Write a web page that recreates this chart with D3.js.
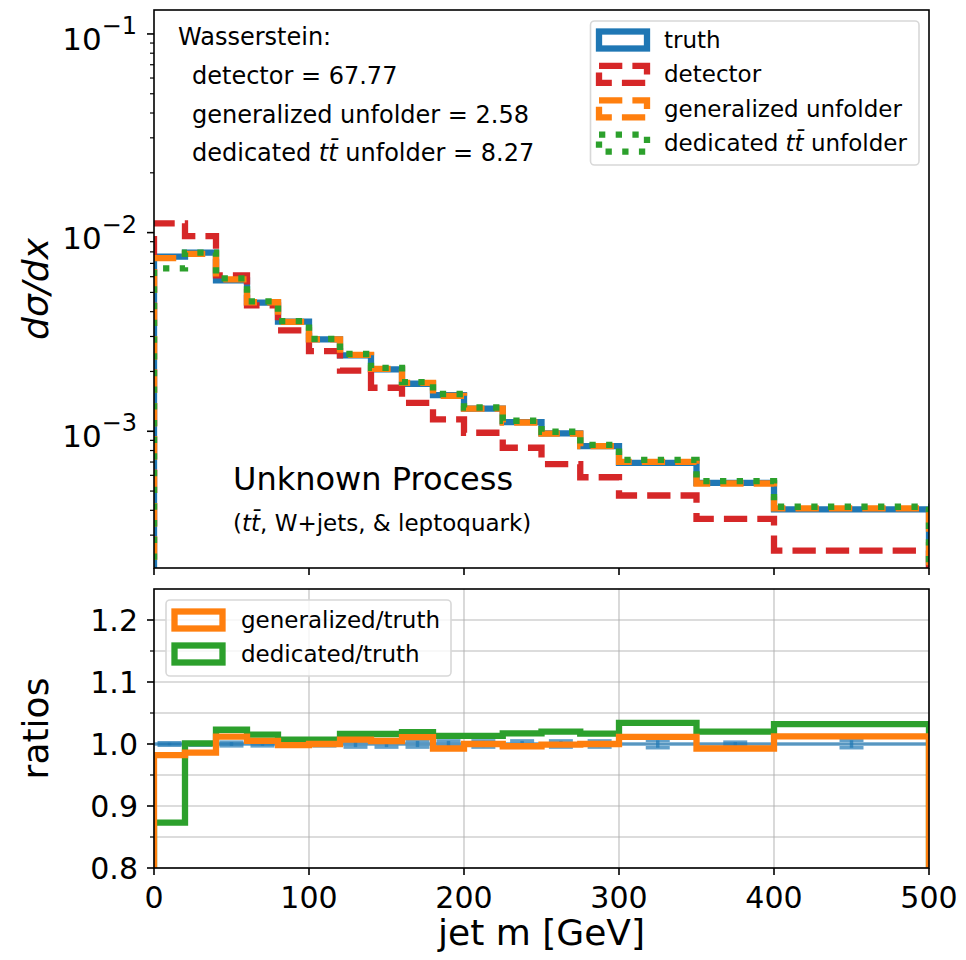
<!DOCTYPE html>
<html>
<head>
<meta charset="utf-8">
<script src="https://cdn.jsdelivr.net/npm/d3@7"></script>
<style>
	body {margin: 0; background: #fff;}
	text {font-family: "DejaVu Sans", sans-serif; fill: #000;}
</style>
</head>
<body>
<script>
// bin edges of the jet mass histogram [GeV]
const binEdges = [0, 20, 40, 60, 80, 100, 120, 140, 160, 180, 200, 225, 250, 275, 300, 350, 400, 500];

// dsigma/dx per bin
const truth = [7.57e-3, 7.93e-3, 5.75e-3, 4.44e-3, 3.56e-3, 2.90e-3, 2.41e-3, 2.05e-3, 1.735e-3, 1.52e-3, 1.30e-3, 1.111e-3, 9.75e-4, 8.41e-4, 6.94e-4, 5.50e-4, 4.04e-4];
const detector = [1.114e-2, 9.61e-3, 6.09e-3, 4.30e-3, 3.22e-3, 2.53e-3, 2.02e-3, 1.656e-3, 1.391e-3, 1.147e-3, 9.83e-4, 8.26e-4, 6.83e-4, 5.87e-4, 4.75e-4, 3.62e-4, 2.51e-4];
const generalized = [7.434e-3, 7.819e-3, 5.819e-3, 4.462e-3, 3.553e-3, 2.900e-3, 2.427e-3, 2.060e-3, 1.754e-3, 1.509e-3, 1.300e-3, 1.107e-3, 9.74e-4, 8.41e-4, 7.02e-4, 5.46e-4, 4.09e-4];
const dedicated = [6.609e-3, 7.938e-3, 5.882e-3, 4.507e-3, 3.585e-3, 2.920e-3, 2.449e-3, 2.083e-3, 1.768e-3, 1.540e-3, 1.317e-3, 1.130e-3, 9.945e-4, 8.55e-4, 7.176e-4, 5.61e-4, 4.17e-4];
// relative stat. uncertainty of truth (ratio panel error bars)
const truthRelErr = [0.002, 0.002, 0.003, 0.003, 0.003, 0.003, 0.005, 0.005, 0.005, 0.005, 0.005, 0.005, 0.005, 0.005, 0.006, 0.003, 0.006];

const xTicks = [0, 100, 200, 300, 400, 500];
const logTickExps = [-1, -2, -3];
const ratioTicks = [0.8, 0.9, 1.0, 1.1, 1.2];
const ratioMinorTicks = [0.85, 0.95, 1.05, 1.15];

const wassersteinTitle = "Wasserstein:";
const wassersteinNames = ["detector", "generalized unfolder", "dedicated tt\u0304 unfolder"];
const wassersteinValues = ["67.77", "2.58", "8.27"];

const W = 966, H = 960;
const L = 154, R = 929;
const top1 = 10, bot1 = 568;	// main panel
const top2 = 589, bot2 = 868;	// ratio panel
const LW = 6.3;					// hist line width

const COLORS = {blue: "#1f77b4", orange: "#ff7f0e", green: "#2ca02c", red: "#d62728"};
const DASH = `${3.7 * LW},${1.6 * LW}`;
const DOT = `${LW},${1.65 * LW}`;

const svg = d3.select("body").append("svg").attr("width", W).attr("height", H);

const x = d3.scaleLinear().domain([0, 500]).range([L, R]);
const y = d3.scaleLog().domain([2.05e-4, 0.132]).range([bot1, top1]);
const yr = d3.scaleLinear().domain([0.8, 1.25]).range([bot2, top2]);

const defs = svg.append("defs");
defs.append("clipPath").attr("id", "clipTop").append("rect")
	.attr("x", L).attr("y", top1).attr("width", R - L).attr("height", bot1 - top1);
defs.append("clipPath").attr("id", "clipBot").append("rect")
	.attr("x", L).attr("y", top2).attr("width", R - L).attr("height", bot2 - top2);

// histtype="step" outline: down to the floor on both ends
const stepPoints = (vals, floor) => {
	const pts = [[binEdges[0], floor]];
	vals.forEach((v, i) => {
		pts.push([binEdges[i], v]);
		pts.push([binEdges[i + 1], v]);
	});
	pts.push([binEdges[binEdges.length - 1], floor]);
	return pts;
}

const topLine = d3.line().x(d => x(d[0])).y(d => y(d[1]));
const botLine = d3.line().x(d => x(d[0])).y(d => yr(d[1]));

// ---------- main panel ----------
const gTop = svg.append("g").attr("clip-path", "url(#clipTop)");
const topSeries = [
	{vals: truth, color: COLORS.blue, dash: null},
	{vals: detector, color: COLORS.red, dash: DASH},
	{vals: generalized, color: COLORS.orange, dash: DASH},
	{vals: dedicated, color: COLORS.green, dash: DOT},
];
topSeries.forEach(s => {
	gTop.append("path")
		.attr("d", topLine(stepPoints(s.vals, 1e-6)))
		.attr("fill", "none")
		.attr("stroke", s.color)
		.attr("stroke-width", LW)
		.attr("stroke-linejoin", "miter")
		.attr("stroke-dasharray", s.dash);
});

// ---------- ratio panel ----------
const gBot = svg.append("g");
// grid
gBot.selectAll("line.gx").data(xTicks).join("line")
	.attr("x1", d => x(d)).attr("x2", d => x(d)).attr("y1", top2).attr("y2", bot2)
	.attr("stroke", "#b0b0b0").attr("stroke-width", 1.6).attr("stroke-opacity", 0.6);
gBot.selectAll("line.gy").data(ratioTicks.concat(ratioMinorTicks)).join("line")
	.attr("x1", L).attr("x2", R).attr("y1", d => yr(d)).attr("y2", d => yr(d))
	.attr("stroke", "#b0b0b0").attr("stroke-width", 1.6).attr("stroke-opacity", 0.6);

const gRatio = gBot.append("g").attr("clip-path", "url(#clipBot)");
// truth/truth with its error bars
const centers = binEdges.slice(0, -1).map((e, i) => (e + binEdges[i + 1]) / 2);
const blueRatio = gRatio.append("g").attr("stroke", COLORS.blue).attr("stroke-opacity", 0.7).attr("stroke-width", 3.5);
blueRatio.append("line").attr("x1", x(0)).attr("x2", x(500)).attr("y1", yr(1)).attr("y2", yr(1));
centers.forEach((c, i) => {
	const e = truthRelErr[i];
	blueRatio.append("line").attr("x1", x(c)).attr("x2", x(c)).attr("y1", yr(1 - e)).attr("y2", yr(1 + e));
	[1 - e, 1 + e].forEach(v => {
		blueRatio.append("line").attr("x1", x(c) - 12).attr("x2", x(c) + 12).attr("y1", yr(v)).attr("y2", yr(v));
	});
});
const ratioOf = vals => vals.map((v, i) => v / truth[i]);
[{vals: dedicated, color: COLORS.green}, {vals: generalized, color: COLORS.orange}].forEach(s => {
	gRatio.append("path")
		.attr("d", botLine(stepPoints(ratioOf(s.vals), 0)))
		.attr("fill", "none")
		.attr("stroke", s.color)
		.attr("stroke-width", LW);
});

// ---------- axes ----------
const spine = (y0, y1) => svg.append("rect")
	.attr("x", L).attr("y", y0).attr("width", R - L).attr("height", y1 - y0)
	.attr("fill", "none").attr("stroke", "#000").attr("stroke-width", 1.6);
spine(top1, bot1);
spine(top2, bot2);

const tick = (x1, y1, x2, y2) => svg.append("line")
	.attr("x1", x1).attr("y1", y1).attr("x2", x2).attr("y2", y2)
	.attr("stroke", "#000").attr("stroke-width", 1.6);

xTicks.forEach(t => {
	tick(x(t), bot1, x(t), bot1 + 7);
	tick(x(t), bot2, x(t), bot2 + 7);
	svg.append("text").attr("x", x(t)).attr("y", bot2 + 40)
		.attr("text-anchor", "middle").attr("font-size", 30).text(t);
});

// log ticks
logTickExps.forEach(p => {
	const yy = y(Math.pow(10, p));
	tick(L - 7, yy, L, yy);
	const t = svg.append("text").attr("x", L - 17).attr("y", yy + 16)
		.attr("text-anchor", "end").attr("font-size", 31);
	t.append("tspan").text("10");
	t.append("tspan").attr("dy", -16).attr("font-size", 24).text("\u2212" + Math.abs(p));
});
d3.range(-4, 0).forEach(p => {
	d3.range(2, 10).forEach(m => {
		const v = m * Math.pow(10, p);
		if (v < y.domain()[0] || v > y.domain()[1]) return;
		tick(L - 4, y(v), L, y(v)).attr("stroke-width", 1.2);
	});
});

ratioTicks.forEach(t => {
	tick(L - 7, yr(t), L, yr(t));
	svg.append("text").attr("x", L - 16).attr("y", yr(t) + 11)
		.attr("text-anchor", "end").attr("font-size", 30).text(t.toFixed(1));
});
ratioMinorTicks.forEach(t => tick(L - 4, yr(t), L, yr(t)).attr("stroke-width", 1.2));

// axis labels
svg.append("text").attr("x", (L + R) / 2).attr("y", 945)
	.attr("text-anchor", "middle").attr("font-size", 36).text("jet m [GeV]");
svg.append("text")
	.attr("transform", `translate(48,${(top1 + bot1) / 2}) rotate(-90)`)
	.attr("text-anchor", "middle").attr("font-size", 36).attr("font-style", "italic")
	.text("d\u03c3/dx");
svg.append("text")
	.attr("transform", `translate(48,${(top2 + bot2) / 2}) rotate(-90)`)
	.attr("text-anchor", "middle").attr("font-size", 36).text("ratios");

// ---------- annotations ----------
// writes label with italic "tt̄" where it appears
const richText = (sel, str) => {
	const parts = str.split("tt\u0304");
	parts.forEach((p, i) => {
		sel.append("tspan").text(p);
		if (i < parts.length - 1) sel.append("tspan").attr("font-style", "italic").text("tt\u0304");
	});
	return sel;
}

svg.append("text").attr("x", 178).attr("y", 45).attr("font-size", 24).text(wassersteinTitle);
wassersteinNames.forEach((n, i) => {
	const t = svg.append("text").attr("x", 192).attr("y", 84 + i * 38.5).attr("font-size", 24);
	richText(t, `${n} = ${wassersteinValues[i]}`);
});

svg.append("text").attr("x", 233).attr("y", 490).attr("font-size", 32).text("Unknown Process");
richText(svg.append("text").attr("x", 233).attr("y", 531).attr("font-size", 23), "(tt\u0304, W+jets, & leptoquark)");

// ---------- legends ----------
const legend = (bx, by, bw, bh, items, rowY0, rowStep, textX) => {
	svg.append("rect").attr("x", bx).attr("y", by).attr("width", bw).attr("height", bh)
		.attr("rx", 4).attr("fill", "#fff").attr("fill-opacity", 0.8)
		.attr("stroke", "#d8d8d8").attr("stroke-width", 1.6);
	items.forEach((it, i) => {
		const cy = rowY0 + i * rowStep;
		svg.append("rect").attr("x", bx + 8.5).attr("y", cy - 8.5).attr("width", 48).attr("height", 17)
			.attr("fill", "none").attr("stroke", it.color).attr("stroke-width", LW)
			.attr("stroke-dasharray", it.dash);
		richText(svg.append("text").attr("x", textX).attr("y", cy + 8).attr("font-size", 23), it.label);
	});
}

legend(590.5, 21, 328.5, 144, [
	{label: "truth", color: COLORS.blue, dash: null},
	{label: "detector", color: COLORS.red, dash: DASH},
	{label: "generalized unfolder", color: COLORS.orange, dash: DASH},
	{label: "dedicated tt\u0304 unfolder", color: COLORS.green, dash: DOT},
], 40, 34.4, 664);

legend(166, 600, 285, 76, [
	{label: "generalized/truth", color: COLORS.orange, dash: null},
	{label: "dedicated/truth", color: COLORS.green, dash: null},
], 620, 34, 241);
</script>
</body>
</html>
